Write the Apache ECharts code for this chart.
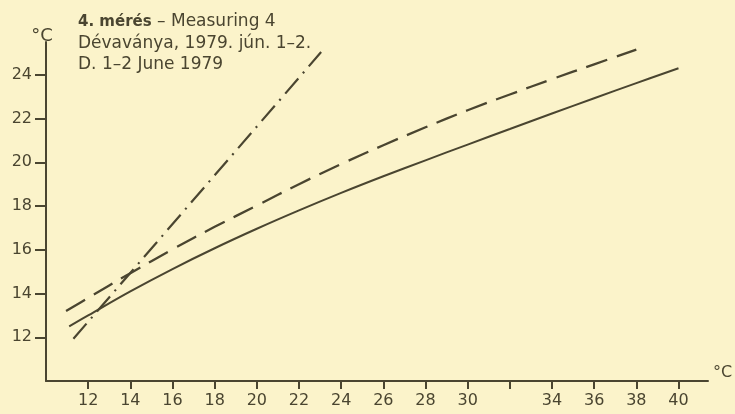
<!DOCTYPE html>
<html><head><meta charset="utf-8">
<script src="https://cdn.jsdelivr.net/npm/echarts@6/dist/echarts.min.js"></script>
<style>html,body{margin:0;padding:0;background:#FBF3CA;}#c{width:735px;height:414px;}</style>
</head><body><div id="c"></div>
<script>
// Data
const solidX = [11.1, 12, 14, 16, 18, 20, 22, 24, 26, 28, 30, 32, 34, 36, 38, 40];
const solidY = [12.5, 13.0, 14.1, 15.12, 16.07, 16.96, 17.8, 18.6, 19.36, 20.09, 20.81, 21.52, 22.23, 22.93, 23.62, 24.3];
const dashX = [10.95, 12, 14, 16, 18, 20, 22, 24, 26, 28, 30, 32, 34, 36, 38];
const dashY = [13.2, 13.8, 14.93, 16.02, 17.05, 18.02, 19.0, 19.92, 20.78, 21.6, 22.38, 23.1, 23.8, 24.48, 25.15];
const dotX = [11.3, 23.05];
const dotY = [11.93, 25.04];
const xTicks = [12, 14, 16, 18, 20, 22, 24, 26, 28, 30, 32, 34, 36, 38, 40];
const xLabels = [12, 14, 16, 18, 20, 22, 24, 26, 28, 30, 34, 36, 38, 40];
const yTicks = [12, 14, 16, 18, 20, 22, 24];
const titleLines = ['4. mérés', ' – Measuring 4', 'Dévaványa, 1979. jún. 1–2.', 'D. 1–2 June 1979'];

const ink = '#4a4530';
const font = 'DejaVu Sans';
const zip = (a, b) => a.map((v, i) => [v, b[i]]);

const chart = echarts.init(document.getElementById('c'));
chart.setOption({
  backgroundColor: '#FBF3CA',
  animation: false,
  textStyle: { fontFamily: font, color: ink },
  title: {
    left: 78, top: 11, padding: 0,
    text: '{b|' + titleLines[0] + '}{r|' + titleLines[1] + '}\n{r|' + titleLines[2] + '}\n{r|' + titleLines[3] + '}',
    textStyle: {
      fontWeight: 'normal',
      rich: {
        b: { fontFamily: font, fontSize: 15, fontWeight: 'bold', color: ink, lineHeight: 21.5 },
        r: { fontFamily: font, fontSize: 17, fontWeight: 'normal', color: ink, lineHeight: 21.5 }
      }
    }
  },
  grid: { left: 46, right: 27, top: 42, bottom: 33, containLabel: false, outerBoundsMode: 'none' },
  xAxis: {
    type: 'value', min: 10, max: 41.4,
    name: '°C', nameLocation: 'end', nameGap: 5,
    nameTextStyle: { fontFamily: font, fontSize: 16, color: ink, verticalAlign: 'bottom', lineHeight: 17 },
    axisLine: { lineStyle: { color: ink, width: 2 } },
    axisTick: { show: true, length: 8, lineStyle: { color: ink, width: 2 }, customValues: xTicks },
    axisLabel: { fontFamily: font, fontSize: 16, color: ink, margin: 12, customValues: xLabels },
    splitLine: { show: false }
  },
  yAxis: {
    type: 'value', min: 10, max: 25.5,
    name: '°C', nameLocation: 'end', nameGap: -3,
    nameTextStyle: { fontFamily: font, fontSize: 18, color: ink, align: 'center', padding: [0, 8, 0, 0] },
    axisLine: { show: true, lineStyle: { color: ink, width: 2 } },
    axisTick: { show: true, length: 11, lineStyle: { color: ink, width: 2 }, customValues: yTicks },
    axisLabel: { fontFamily: font, fontSize: 16, color: ink, margin: 14, customValues: yTicks },
    splitLine: { show: false }
  },
  series: [
    { type: 'line', data: zip(solidX, solidY), smooth: 0.4, symbol: 'none',
      lineStyle: { color: ink, width: 2 } },
    { type: 'line', data: zip(dashX, dashY), smooth: 0.4, symbol: 'none',
      lineStyle: { color: ink, width: 2.3, type: [22, 10] } },
    { type: 'line', data: zip(dotX, dotY), symbol: 'none',
      lineStyle: { color: ink, width: 2.2, type: [20, 7, 2, 7] } }
  ]
});
</script></body></html>
